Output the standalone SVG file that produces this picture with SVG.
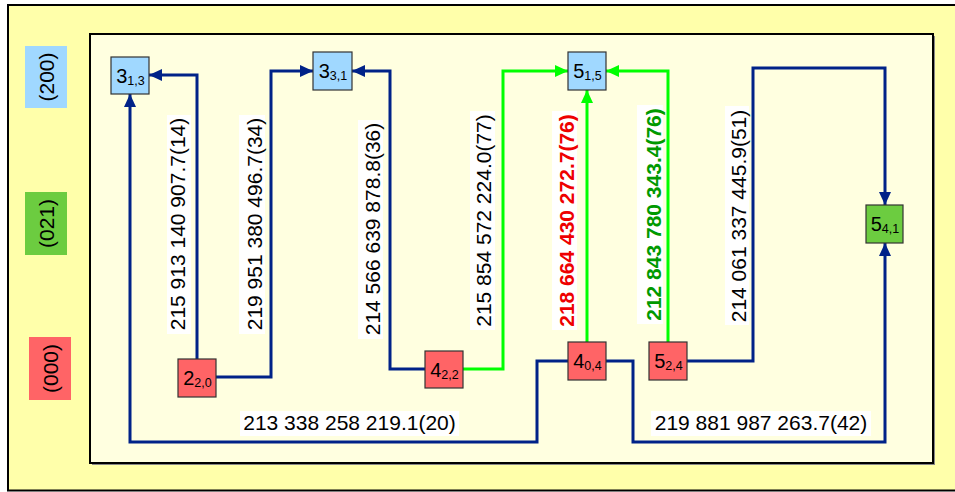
<svg xmlns="http://www.w3.org/2000/svg" width="955" height="492" viewBox="0 0 955 492">
<defs>
<marker id="ab" markerUnits="userSpaceOnUse" markerWidth="13" markerHeight="12" refX="13" refY="6" orient="auto"><path d="M0,0 L13,6 L0,12 z" fill="#002288"/></marker>
<marker id="ag" markerUnits="userSpaceOnUse" markerWidth="13" markerHeight="12" refX="13" refY="6" orient="auto"><path d="M0,0 L13,6 L0,12 z" fill="#00FF00"/></marker>
<style>
text{font-family:"Liberation Sans",Arial,sans-serif;fill:#000}
.lbl{font-size:21px}
.nd rect{stroke:#333;stroke-width:1.2}
.nd text{font-size:20px}
.sub{font-size:12.5px}
.b{fill:none;stroke:#002288;stroke-width:3}
.g{fill:none;stroke:#00FF00;stroke-width:3}
.bg{fill:#FFFFFF}
.blue{fill:#A0D8FF}
.green{fill:#6CCC40}
.red{fill:#FF6466}
</style>
</defs>
<rect x="8" y="5" width="960" height="485.5" fill="#FFFFAA" stroke="#000" stroke-width="2"/>
<rect x="92" y="36" width="843" height="429" fill="#888"/>
<rect x="90" y="34" width="843" height="429" fill="#FFFFE0" stroke="#000" stroke-width="2"/>

<g id="level-labels">
<g id="lvl200"><rect class="blue" x="25" y="46" width="42" height="62"/><text class="lbl" transform="translate(54,77) rotate(-90)" text-anchor="middle">(200)</text></g>
<g id="lvl021"><rect class="green" x="25" y="192" width="42" height="63"/><text class="lbl" transform="translate(54,223.5) rotate(-90)" text-anchor="middle">(021)</text></g>
<g id="lvl000"><rect class="red" x="29" y="337" width="42" height="63"/><text class="lbl" transform="translate(58,368.5) rotate(-90)" text-anchor="middle">(000)</text></g>
</g>

<g id="connectors">
<path class="b" d="M197,359 V75 H149" marker-end="url(#ab)"/>
<path class="b" d="M216,377 H271 V71 H313" marker-end="url(#ab)"/>
<path class="b" d="M425,369 H390 V71 H352" marker-end="url(#ab)"/>
<path class="g" d="M463,369 H503 V71 H568" marker-end="url(#ag)"/>
<path class="g" d="M587,342 V90" marker-end="url(#ag)"/>
<path class="g" d="M668,342 V71 H606" marker-end="url(#ag)"/>
<path class="b" d="M687,361 H753 V68 H885 V205" marker-end="url(#ab)"/>
<path class="b" d="M568,361 H537 V442 H130 V94" marker-end="url(#ab)"/>
<path class="b" d="M606,361 H633 V442 H885 V243" marker-end="url(#ab)"/>
</g>

<g id="edge-labels">
<rect class="bg" x="167" y="115" width="24" height="219"/>
<text class="lbl" transform="translate(185,224) rotate(-90)" text-anchor="middle">215 913 140 907.7(14)</text>
<rect class="bg" x="239" y="115" width="26" height="219"/>
<text class="lbl" transform="translate(262,224) rotate(-90)" text-anchor="middle">219 951 380 496.7(34)</text>
<rect class="bg" x="358" y="120" width="25" height="219"/>
<text class="lbl" transform="translate(380,229) rotate(-90)" text-anchor="middle">214 566 639 878.8(36)</text>
<rect class="bg" x="470" y="111" width="25" height="219"/>
<text class="lbl" transform="translate(491,220.5) rotate(-90)" text-anchor="middle">215 854 572 224.0(77)</text>
<rect class="bg" x="552" y="111" width="25" height="219"/>
<text class="lbl" transform="translate(574,220.5) rotate(-90)" text-anchor="middle" font-weight="bold" style="fill:#EE0000">218 664 430 272.7(76)</text>
<rect class="bg" x="637" y="105" width="26" height="219"/>
<text class="lbl" transform="translate(661,214.5) rotate(-90)" text-anchor="middle" font-weight="bold" style="fill:#009900">212 843 780 343.4(76)</text>
<rect class="bg" x="725" y="106" width="24" height="219"/>
<text class="lbl" transform="translate(746,216) rotate(-90)" text-anchor="middle">214 061 337 445.9(51)</text>
<rect class="bg" x="240" y="411" width="219" height="25"/>
<text class="lbl" x="349.5" y="430" text-anchor="middle">213 338 258 219.1(20)</text>
<rect class="bg" x="651" y="411" width="220" height="25"/>
<text class="lbl" x="761" y="430" text-anchor="middle">219 881 987 263.7(42)</text>
</g>

<g id="n313" class="nd"><rect class="blue" x="111" y="57" width="38" height="37"/><text x="130.5" y="83" text-anchor="middle">3<tspan class="sub" dy="2">1,3</tspan></text></g>
<g id="n331" class="nd"><rect class="blue" x="313" y="52" width="39" height="38"/><text x="333" y="78" text-anchor="middle">3<tspan class="sub" dy="2">3,1</tspan></text></g>
<g id="n515" class="nd"><rect class="blue" x="568" y="52" width="38" height="38"/><text x="587.5" y="78" text-anchor="middle">5<tspan class="sub" dy="2">1,5</tspan></text></g>
<g id="n541" class="nd"><rect class="green" x="866" y="205" width="37" height="38"/><text x="885" y="231" text-anchor="middle">5<tspan class="sub" dy="2">4,1</tspan></text></g>
<g id="n220" class="nd"><rect class="red" x="178" y="359" width="38" height="38"/><text x="197.5" y="385" text-anchor="middle">2<tspan class="sub" dy="2">2,0</tspan></text></g>
<g id="n422" class="nd"><rect class="red" x="425" y="351" width="38" height="37"/><text x="444.5" y="377" text-anchor="middle">4<tspan class="sub" dy="2">2,2</tspan></text></g>
<g id="n404" class="nd"><rect class="red" x="568" y="342" width="38" height="38"/><text x="587.5" y="368" text-anchor="middle">4<tspan class="sub" dy="2">0,4</tspan></text></g>
<g id="n524" class="nd"><rect class="red" x="649" y="342" width="38" height="38"/><text x="668.5" y="368" text-anchor="middle">5<tspan class="sub" dy="2">2,4</tspan></text></g>
</svg>
